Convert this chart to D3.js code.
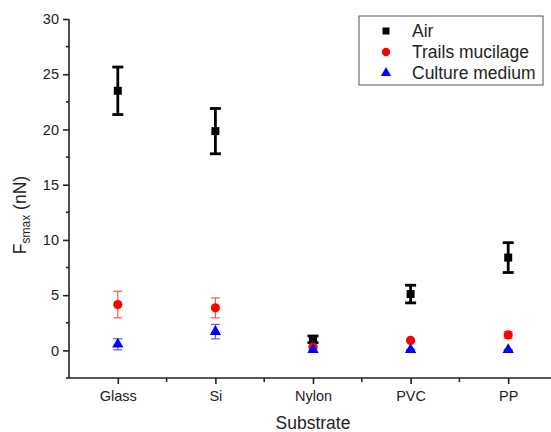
<!DOCTYPE html>
<html lang="en">
<head>
  <meta charset="UTF-8">
  <title>Fsmax by substrate</title>
  <script src="https://d3js.org/d3.v7.min.js"></script>
  <style>
    body { margin: 0; background: #fff; font-family: Arial, "Liberation Sans", sans-serif; }
    svg { display: block; }
    .axis text { font-size: 14.5px; fill: #222; font-family: Arial, "Liberation Sans", sans-serif; }
    .axis path, .axis line { stroke: #222; stroke-width: 1.6; }
  </style>
</head>
<body>
  <svg id="chart"></svg>
  <script>
    // Data
    const substrates = ["Glass", "Si", "Nylon", "PVC", "PP"];
    const airMean = [23.5, 19.85, 1.0, 5.1, 8.4];
    const airErr = [2.15, 2.05, 0.3, 0.8, 1.35];
    const mucilageMean = [4.15, 3.85, 0.3, 0.9, 1.4];
    const mucilageErr = [1.2, 0.9, 0.1, 0.1, 0.3];
    const mediumMean = [0.55, 1.7, 0.05, 0.05, 0.05];
    const mediumErr = [0.5, 0.65, 0.1, 0.05, 0.05];
    const yTicks = [0, 5, 10, 15, 20, 25, 30];

    const width = 551;
    const height = 432;
    const plotLeft = 69, plotTop = 19, plotBottom = 378;
    const step = 97.6;

    const svg = d3.select("#chart").attr("width", width).attr("height", height);

    const x = d3.scaleLinear().domain([0.5, 5.5]).range([plotLeft, plotLeft + 5 * step]);
    const y = d3.scaleLinear().domain([-2.5, 30]).range([plotBottom, plotTop]);

    // Y axis: major + minor ticks
    const yAxis = svg.append("g").attr("class", "axis")
      .attr("transform", `translate(${plotLeft},0)`)
      .call(d3.axisLeft(y).tickValues(yTicks).tickSize(6).tickSizeOuter(0).tickPadding(4));
    yAxis.select(".domain").remove();
    yAxis.append("line").attr("x1", 0).attr("x2", 0).attr("y1", y(-2.5)).attr("y2", y(30));
    svg.append("g").attr("class", "axis")
      .attr("transform", `translate(${plotLeft},0)`)
      .selectAll("line")
      .data(d3.range(-2.5, 30, 5))
      .enter().append("line")
      .attr("x1", -3).attr("x2", 0)
      .attr("y1", d => y(d)).attr("y2", d => y(d));

    // X axis
    const xAxis = svg.append("g").attr("class", "axis")
      .attr("transform", `translate(0,${plotBottom})`)
      .call(d3.axisBottom(x).tickValues(d3.range(1, 6)).tickFormat(d => substrates[d - 1])
        .tickSize(6).tickSizeOuter(0).tickPadding(7));
    xAxis.select(".domain").remove();
    xAxis.append("line").attr("x1", plotLeft).attr("x2", width).attr("y1", 0).attr("y2", 0);
    svg.append("g").attr("class", "axis")
      .attr("transform", `translate(0,${plotBottom})`)
      .selectAll("line")
      .data(d3.range(1.5, 5.5, 1))
      .enter().append("line")
      .attr("x1", d => x(d)).attr("x2", d => x(d))
      .attr("y1", 0).attr("y2", 4);

    // Axis titles
    svg.append("text")
      .attr("x", x(3)).attr("y", 429)
      .attr("text-anchor", "middle")
      .style("font-size", "17.5px").style("fill", "#222")
      .text("Substrate");

    const yl = svg.append("text")
      .attr("transform", "translate(26,215) rotate(-90)")
      .attr("text-anchor", "middle")
      .style("font-size", "17.5px").style("fill", "#222");
    yl.append("tspan").text("F");
    yl.append("tspan").attr("dy", 4).style("font-size", "12px").text("smax");
    yl.append("tspan").attr("dy", -4).text(" (nN)");

    // Error bars
    function errorBars(means, errs, color, sw, cap) {
      const g = svg.append("g").attr("stroke", color).attr("stroke-width", sw);
      means.forEach((m, i) => {
        const cx = x(i + 1);
        g.append("line").attr("x1", cx).attr("x2", cx).attr("y1", y(m - errs[i])).attr("y2", y(m + errs[i]));
        g.append("line").attr("x1", cx - cap).attr("x2", cx + cap).attr("y1", y(m - errs[i])).attr("y2", y(m - errs[i]));
        g.append("line").attr("x1", cx - cap).attr("x2", cx + cap).attr("y1", y(m + errs[i])).attr("y2", y(m + errs[i]));
      });
    }

    errorBars(airMean, airErr, "#000", 2.8, 5.5);
    errorBars(mucilageMean, mucilageErr, "#f25a5a", 1.2, 4.5);
    errorBars(mediumMean, mediumErr, "#5a5af2", 1.2, 4.5);

    const square = d3.symbol().type(d3.symbolSquare).size(64);
    const circle = d3.symbol().type(d3.symbolCircle).size(66);
    const triangle = d3.symbol().type(d3.symbolTriangle).size(56);

    svg.append("g").selectAll("path").data(airMean).enter().append("path")
      .attr("d", square).attr("fill", "#000")
      .attr("transform", (d, i) => `translate(${x(i + 1)},${y(d)})`);
    svg.append("g").selectAll("path").data(mucilageMean).enter().append("path")
      .attr("d", circle).attr("fill", "#ff0000")
      .attr("transform", (d, i) => `translate(${x(i + 1)},${y(d)})`);
    svg.append("g").selectAll("path").data(mediumMean).enter().append("path")
      .attr("d", triangle).attr("fill", "#0000ff")
      .attr("transform", (d, i) => `translate(${x(i + 1)},${y(d)})`);

    // Legend
    const legend = svg.append("g").attr("transform", "translate(359,16)");
    legend.append("rect")
      .attr("x", 0).attr("y", 0).attr("width", 184).attr("height", 69)
      .attr("fill", "#fff").attr("stroke", "#555").attr("stroke-width", 1);
    const items = [
      { label: "Air", sym: d3.symbol().type(d3.symbolSquare).size(49), color: "#000" },
      { label: "Trails mucilage", sym: d3.symbol().type(d3.symbolCircle).size(55), color: "#ff0000" },
      { label: "Culture medium", sym: d3.symbol().type(d3.symbolTriangle).size(45), color: "#0000ff" }
    ];
    items.forEach((it, i) => {
      const cy = 15 + i * 21;
      legend.append("path").attr("d", it.sym).attr("fill", it.color)
        .attr("transform", `translate(27,${cy})`);
      legend.append("text").attr("x", 53).attr("y", cy + 6)
        .style("font-size", "17.5px").style("fill", "#222")
        .text(it.label);
    });
  </script>
</body>
</html>
